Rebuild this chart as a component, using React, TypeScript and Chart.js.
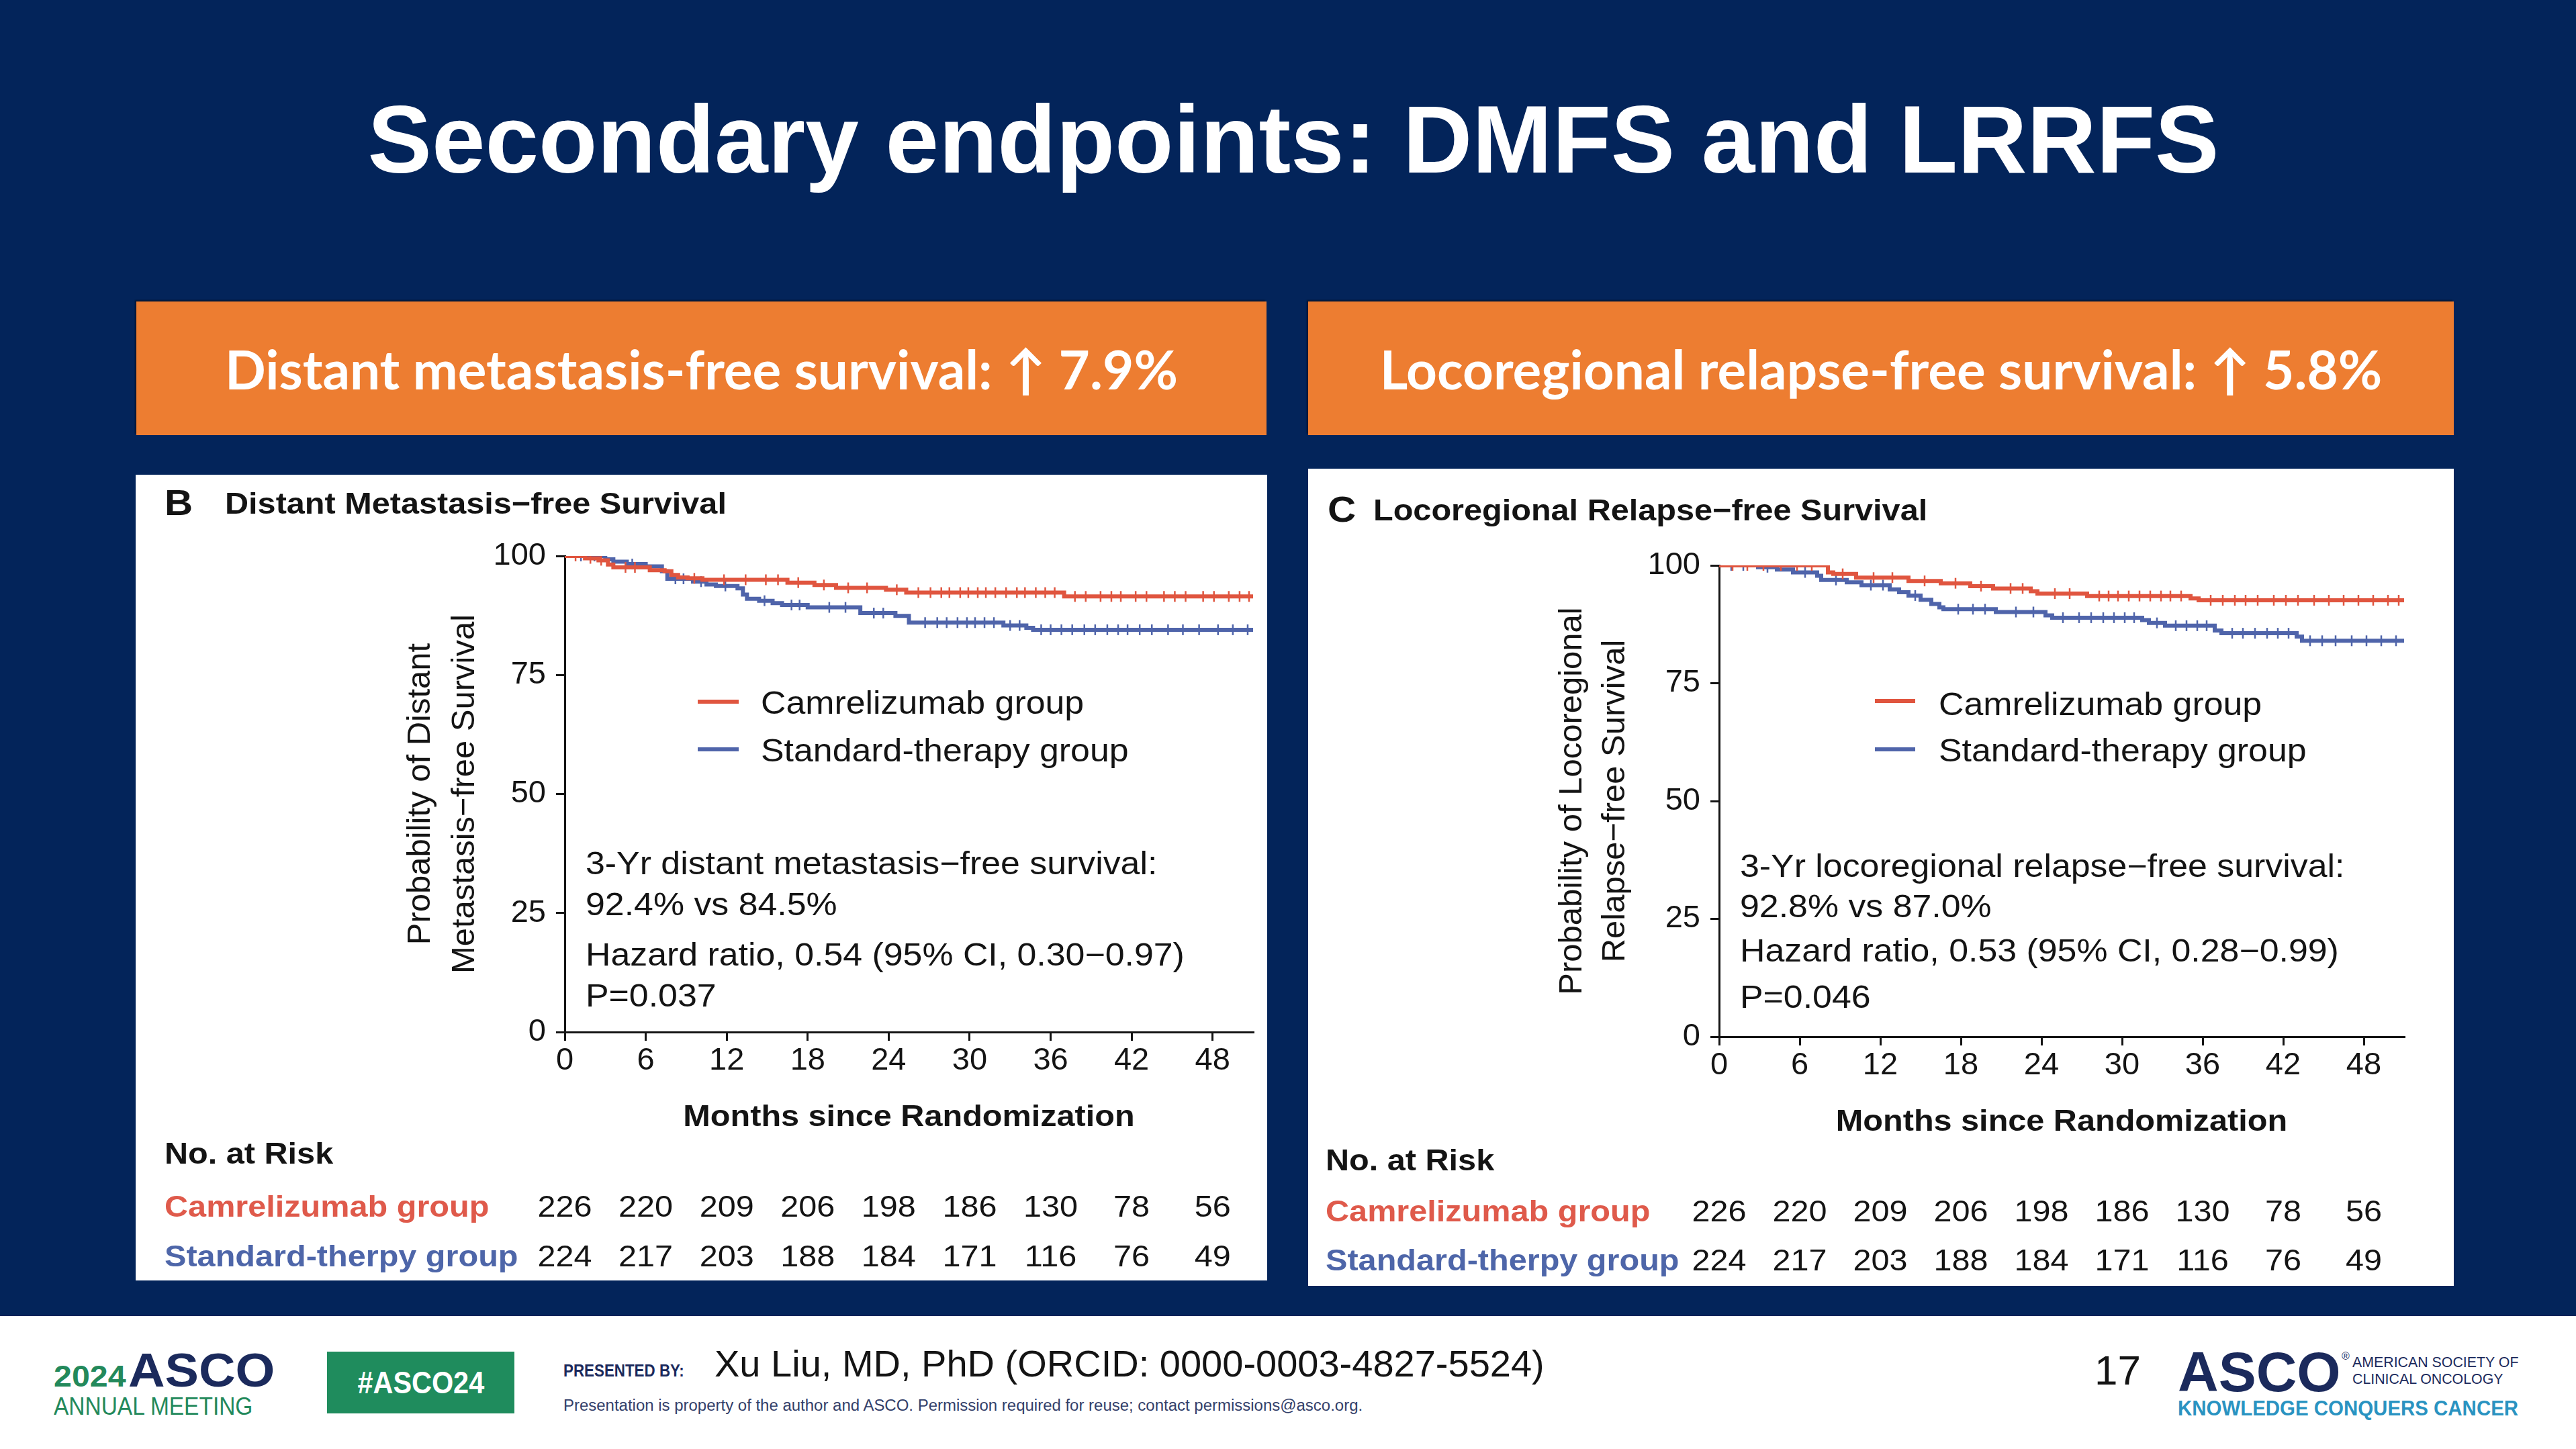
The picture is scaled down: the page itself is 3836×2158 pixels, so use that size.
import React, { useEffect, useRef } from 'react';
import { Chart, registerables } from 'chart.js';

Chart.register(...registerables);

const FONT = "'Liberation Sans', Arial, Helvetica, sans-serif";
const NAVY = '#03245a';
const ORANGE = '#ed7d31';
const RED = '#e0553f';
const BLUE = '#4f64aa';
const RED_TXT = '#df5a4b';
const BLUE_TXT = '#4e66a9';
const INK = '#141414';
const SX = 1.08; // horizontal stretch seen in the figure's text

// ---------------- data ----------------
const monthTicks = [0, 6, 12, 18, 24, 30, 36, 42, 48];
const monthMax = 51;
const probTicks = [0, 25, 50, 75, 100];

// Distant metastasis-free survival (Kaplan-Meier steps)
const dmfsCamTimes = [0, 1.5, 2.5, 3.2, 3.6, 6.3, 7.4, 7.9, 8.4, 9.1, 10.2, 16.5, 18.5, 20.1, 23.8, 25.3, 37.0, 51];
const dmfsCamSurv = [100, 99.5, 99.1, 98.2, 97.6, 97.0, 96.8, 96.0, 95.5, 95.3, 95.0, 94.4, 93.9, 93.3, 92.9, 92.3, 91.5, 91.5];
const dmfsStdTimes = [0, 3.0, 3.6, 4.6, 6.0, 7.2, 7.6, 9.5, 10.5, 11.2, 12.8, 13.2, 13.5, 14.4, 15.4, 16.1, 18.0, 21.9, 24.5, 25.5, 32.5, 34.2, 34.7, 51];
const dmfsStdSurv = [100, 99.3, 98.8, 98.3, 97.8, 96.8, 95.2, 94.6, 94.0, 93.7, 93.2, 91.9, 91.0, 90.6, 90.1, 89.7, 89.2, 88.0, 87.4, 86.0, 85.4, 84.9, 84.5, 84.5];
const dmfsCamCensor = [0.8, 1.9, 2.7, 4.5, 5.2, 9.6, 11.8, 13.4, 14.9, 15.8, 17.3, 19.2, 21.0, 22.4, 24.6, 26.2, 27.1, 27.9, 28.5, 29.3, 29.9, 30.6, 31.2, 31.9, 32.7, 33.5, 34.1, 34.9, 35.6, 36.3, 37.8, 38.6, 39.7, 40.5, 41.2, 42.3, 43.1, 44.4, 45.2, 46.0, 47.3, 48.1, 49.2, 50.0, 50.7];
const dmfsStdCensor = [1.2, 2.2, 5.0, 8.2, 8.8, 10.1, 11.9, 14.8, 16.8, 17.4, 19.6, 20.8, 22.9, 23.6, 26.7, 27.6, 28.3, 29.1, 29.8, 30.4, 31.1, 31.8, 33.0, 33.7, 35.3, 36.0, 36.8, 37.6, 38.5, 39.3, 40.2, 41.0, 41.7, 42.6, 43.5, 44.7, 45.8, 47.0, 48.4, 49.5, 50.6];
const dmfsRiskCam = [226, 220, 209, 206, 198, 186, 130, 78, 56];
const dmfsRiskStd = [224, 217, 203, 188, 184, 171, 116, 76, 49];

// Locoregional relapse-free survival (Kaplan-Meier steps)
const lrrfsCamTimes = [0, 8.1, 8.5, 10.2, 14.1, 16.5, 18.7, 20.4, 23.2, 23.7, 27.4, 35.1, 35.7, 51];
const lrrfsCamSurv = [100, 98.5, 98.2, 97.4, 96.7, 96.2, 95.6, 95.1, 94.5, 94.0, 93.5, 93.0, 92.6, 92.6];
const lrrfsStdTimes = [0, 2.9, 4.3, 5.5, 7.3, 7.6, 9.5, 10.6, 12.7, 13.4, 14.1, 15.0, 15.8, 16.4, 16.7, 20.6, 24.3, 24.8, 31.5, 32.0, 33.2, 36.9, 37.4, 43.0, 43.4, 51];
const lrrfsStdSurv = [100, 99.6, 99.1, 98.5, 97.8, 96.9, 96.4, 95.8, 94.9, 94.3, 93.6, 92.7, 91.8, 91.1, 90.7, 90.1, 89.4, 88.9, 88.4, 87.8, 87.2, 86.2, 85.6, 84.9, 84.0, 84.0];
const lrrfsCamCensor = [1.0, 2.1, 3.3, 4.6, 5.8, 6.9, 9.2, 11.5, 12.9, 15.3, 17.6, 19.5, 21.7, 22.6, 25.0, 26.1, 28.3, 29.0, 29.7, 30.5, 31.3, 32.1, 32.9, 33.6, 34.4, 36.6, 37.5, 38.4, 39.2, 40.1, 41.3, 42.2, 43.1, 44.3, 45.4, 46.5, 47.6, 48.7, 49.8, 50.6];
const lrrfsStdCensor = [0.9, 1.8, 3.6, 6.4, 8.7, 11.3, 12.2, 14.6, 17.8, 18.9, 19.8, 22.1, 23.4, 25.6, 26.8, 27.7, 28.6, 29.4, 30.2, 30.9, 32.6, 34.0, 34.8, 35.6, 36.3, 38.2, 39.0, 39.9, 40.8, 41.6, 42.4, 44.0, 44.9, 45.9, 47.1, 48.2, 49.3, 50.4];
const lrrfsRiskCam = [226, 220, 209, 206, 198, 186, 130, 78, 56];
const lrrfsRiskStd = [224, 217, 203, 188, 184, 171, 116, 76, 49];

// ---------------- text ----------------
const slideTitle = 'Secondary endpoints: DMFS and LRRFS';
const headerLeft = 'Distant metastasis-free survival: ↑ 7.9%';
const headerRight = 'Locoregional relapse-free survival: ↑ 5.8%';
const legendLabels = ['Camrelizumab group', 'Standard-therapy group'];
const riskLabels = ['Camrelizumab group', 'Standard-therpy group'];
const xTitle = 'Months since Randomization';

function survAt(times: number[], surv: number[], t: number) {
  let v = surv[0];
  for (let i = 0; i < times.length; i++) if (times[i] <= t) v = surv[i];
  return v;
}

type PanelCfg = {
  x: number; y: number; w: number; h: number;
  caLeft: number; caTop: number; caRight: number; caBottom: number;
  letter: string; letterX: number; titleX: number; titleB: number; title: string;
  yTitle: string[]; yTitleX: number[];
  xTitleB: number;
  legLine: [number, number]; legY: number[]; legTextX: number; legB: number[];
  note: string[]; noteX: number; noteB: number[];
  riskX: number; riskHeadB: number; riskB: number[];
  camTimes: number[]; camSurv: number[]; stdTimes: number[]; stdSurv: number[];
  camCensor: number[]; stdCensor: number[]; riskCam: number[]; riskStd: number[];
};

const leftPanel: PanelCfg = {
  x: 202, y: 707, w: 1685, h: 1200,
  caLeft: 639, caTop: 121, caRight: 1664, caBottom: 830,
  letter: 'B', letterX: 43, titleX: 133, titleB: 58, title: 'Distant Metastasis−free Survival',
  yTitle: ['Probability of Distant', 'Metastasis−free Survival'], yTitleX: [424, 490],
  xTitleB: 970,
  legLine: [837, 898], legY: [338, 409], legTextX: 931, legB: [356, 427],
  note: ['3-Yr distant metastasis−free survival:', '92.4% vs 84.5%', 'Hazard ratio, 0.54 (95% CI, 0.30−0.97)', 'P=0.037'],
  noteX: 670, noteB: [595, 656, 731, 792],
  riskX: 43, riskHeadB: 1026, riskB: [1105, 1179],
  camTimes: dmfsCamTimes, camSurv: dmfsCamSurv, stdTimes: dmfsStdTimes, stdSurv: dmfsStdSurv,
  camCensor: dmfsCamCensor, stdCensor: dmfsStdCensor, riskCam: dmfsRiskCam, riskStd: dmfsRiskStd,
};

const rightPanel: PanelCfg = {
  x: 1948, y: 698, w: 1706, h: 1217,
  caLeft: 612, caTop: 144, caRight: 1632, caBottom: 846,
  letter: 'C', letterX: 29, titleX: 97, titleB: 77, title: 'Locoregional Relapse−free Survival',
  yTitle: ['Probability of Locoregional', 'Relapse−free Survival'], yTitleX: [393, 457],
  xTitleB: 986,
  legLine: [844, 904], legY: [346, 418], legTextX: 939, legB: [367, 436],
  note: ['3-Yr locoregional relapse−free survival:', '92.8% vs 87.0%', 'Hazard ratio, 0.53 (95% CI, 0.28−0.99)', 'P=0.046'],
  noteX: 643, noteB: [608, 668, 734, 803],
  riskX: 26, riskHeadB: 1045, riskB: [1121, 1194],
  camTimes: lrrfsCamTimes, camSurv: lrrfsCamSurv, stdTimes: lrrfsStdTimes, stdSurv: lrrfsStdSurv,
  camCensor: lrrfsCamCensor, stdCensor: lrrfsStdCensor, riskCam: lrrfsRiskCam, riskStd: lrrfsRiskStd,
};

function drawText(ctx: CanvasRenderingContext2D, text: string, x: number, y: number, size: number, weight: number, color: string, align: CanvasTextAlign = 'left', sx = SX) {
  ctx.save();
  ctx.translate(x, y);
  ctx.scale(sx, 1);
  ctx.font = `${weight} ${size}px ${FONT}`;
  ctx.fillStyle = color;
  ctx.textAlign = align;
  ctx.textBaseline = 'alphabetic';
  ctx.fillText(text, 0, 0);
  ctx.restore();
}

function makeOverlay(p: PanelCfg) {
  return {
    id: 'kmOverlay',
    afterDraw(chart: any) {
      const ctx: CanvasRenderingContext2D = chart.ctx;
      const ca = chart.chartArea;
      const xs = chart.scales.x;
      // panel title
      drawText(ctx, p.letter, p.letterX, p.titleB + 2, 54, 700, INK);
      drawText(ctx, p.title, p.titleX, p.titleB, 45, 700, INK);
      // y title
      const cy = (ca.top + ca.bottom) / 2;
      p.yTitle.forEach((line, i) => {
        ctx.save();
        ctx.translate(p.yTitleX[i], cy);
        ctx.rotate(-Math.PI / 2);
        ctx.font = `400 49px ${FONT}`;
        ctx.fillStyle = INK;
        ctx.textAlign = 'center';
        ctx.textBaseline = 'middle';
        ctx.fillText(line, 0, 0);
        ctx.restore();
      });
      // x title
      drawText(ctx, xTitle, (ca.left + ca.right) / 2, p.xTitleB, 45, 700, INK, 'center');
      // legend
      [RED, BLUE].forEach((c, i) => {
        ctx.save();
        ctx.strokeStyle = c;
        ctx.lineWidth = 6;
        ctx.beginPath();
        ctx.moveTo(p.legLine[0], p.legY[i]);
        ctx.lineTo(p.legLine[1], p.legY[i]);
        ctx.stroke();
        ctx.restore();
        drawText(ctx, legendLabels[i], p.legTextX, p.legB[i], 48, 400, INK);
      });
      // annotation
      p.note.forEach((line, i) => drawText(ctx, line, p.noteX, p.noteB[i], 48, 400, INK));
      // risk table
      drawText(ctx, 'No. at Risk', p.riskX, p.riskHeadB, 45, 700, INK);
      drawText(ctx, riskLabels[0], p.riskX, p.riskB[0], 45, 700, RED_TXT);
      drawText(ctx, riskLabels[1], p.riskX, p.riskB[1], 45, 700, BLUE_TXT);
      monthTicks.forEach((m, i) => {
        const px = xs.getPixelForValue(m);
        drawText(ctx, String(p.riskCam[i]), px, p.riskB[0], 45, 400, INK, 'center');
        drawText(ctx, String(p.riskStd[i]), px, p.riskB[1], 45, 400, INK, 'center');
      });
    },
  };
}

function KMPanel({ panel }: { panel: PanelCfg }) {
  const ref = useRef<HTMLCanvasElement | null>(null);
  useEffect(() => {
    const canvas = ref.current;
    if (!canvas) return;
    const p = panel;
    const stepData = (t: number[], s: number[]) => t.map((x, i) => ({ x, y: s[i] }));
    const censorData = (c: number[], t: number[], s: number[]) => c.map((x) => ({ x, y: survAt(t, s, x) }));
    const censorStyle = (color: string) => ({
      showLine: false,
      pointStyle: 'line' as const,
      rotation: 90,
      pointRadius: 8,
      pointBorderWidth: 2.5,
      pointBorderColor: color,
      borderColor: color,
      backgroundColor: color,
    });
    const tickFont = { family: FONT, size: 47 };
    const chart = new Chart(canvas, {
      type: 'line',
      data: {
        datasets: [
          { data: stepData(p.camTimes, p.camSurv), borderColor: RED, borderWidth: 6, stepped: 'before', pointRadius: 0, fill: false },
          { data: censorData(p.camCensor, p.camTimes, p.camSurv), ...censorStyle(RED) } as any,
          { data: stepData(p.stdTimes, p.stdSurv), borderColor: BLUE, borderWidth: 6, stepped: 'before', pointRadius: 0, fill: false },
          { data: censorData(p.stdCensor, p.stdTimes, p.stdSurv), ...censorStyle(BLUE) } as any,
        ],
      },
      options: {
        animation: false,
        responsive: false,
        maintainAspectRatio: false,
        events: [],
        layout: { padding: { left: 0, top: p.caTop, right: p.w - p.caRight, bottom: 0 } },
        plugins: { legend: { display: false }, tooltip: { enabled: false }, title: { display: false } },
        scales: {
          x: {
            type: 'linear',
            min: 0,
            max: monthMax,
            afterBuildTicks: (s: any) => { s.ticks = monthTicks.map((v) => ({ value: v })); },
            afterFit: (s: any) => { s.height = p.h - p.caBottom; },
            grid: { display: true, drawOnChartArea: false, drawTicks: true, tickLength: 13, color: INK, lineWidth: 3 },
            border: { display: true, color: INK, width: 3 },
            ticks: { color: INK, font: tickFont, padding: 2, maxRotation: 0, autoSkip: false },
          },
          y: {
            type: 'linear',
            min: 0,
            max: 100,
            afterBuildTicks: (s: any) => { s.ticks = probTicks.map((v) => ({ value: v })); },
            afterFit: (s: any) => { s.width = p.caLeft; },
            grid: { display: true, drawOnChartArea: false, drawTicks: true, tickLength: 13, color: INK, lineWidth: 3 },
            border: { display: true, color: INK, width: 3 },
            ticks: { color: INK, font: tickFont, padding: 15, autoSkip: false },
          },
        },
      } as any,
      plugins: [makeOverlay(p) as any],
    });
    return () => chart.destroy();
  }, [panel]);
  return (
    <canvas
      ref={ref}
      width={panel.w}
      height={panel.h}
      style={{ position: 'absolute', left: panel.x, top: panel.y, width: panel.w, height: panel.h, background: '#fff', display: 'block' }}
    />
  );
}

function T(props: { x: number; b: number; size: number; text: string; weight?: number; color?: string; sx?: number; family?: string }) {
  const { x, b, size, text, weight = 400, color = INK, sx = 1, family = FONT } = props;
  return (
    <div
      style={{
        position: 'absolute', left: x, top: b - 0.8465 * size, fontSize: size, lineHeight: `${size}px`,
        fontWeight: weight, color, fontFamily: family, whiteSpace: 'nowrap',
        transform: `scaleX(${sx})`, transformOrigin: 'left top',
      }}
    >
      {text}
    </div>
  );
}

function Header({ x, w, text }: { x: number; w: number; text: string }) {
  return (
    <div
      style={{
        position: 'absolute', left: x, top: 449, width: w, height: 199, background: ORANGE,
        boxShadow: '-2px -2px 2px rgba(0,0,0,0.45)',
        display: 'flex', alignItems: 'center', justifyContent: 'center',
        color: '#fff', fontFamily: "Lato, 'Open Sans', sans-serif", fontWeight: 700, fontSize: 80, whiteSpace: 'nowrap',
      }}
    >
      {text}
    </div>
  );
}

export default function App() {
  const green = '#23895b';
  const navyLogo = '#1b2a5c';
  return (
    <div style={{ position: 'fixed', left: 0, top: 0, width: 3836, height: 2158, background: '#fff', overflow: 'hidden', fontFamily: FONT }}>
      <div style={{ position: 'absolute', left: 0, top: 0, width: 3836, height: 1960, background: NAVY }} />
      <div
        style={{
          position: 'absolute', left: 8, top: 257 - 0.8465 * 143, width: 3836, textAlign: 'center',
          fontSize: 143, lineHeight: '143px', fontWeight: 700, color: '#fff', fontFamily: FONT, whiteSpace: 'nowrap',
        }}
      >
        {slideTitle}
      </div>
      <Header x={203} w={1683} text={headerLeft} />
      <Header x={1948} w={1706} text={headerRight} />
      <KMPanel panel={leftPanel} />
      <KMPanel panel={rightPanel} />

      {/* footer */}
      <T x={80} b={2065} size={44} text="2024" weight={700} color={green} sx={1.1} />
      <T x={191} b={2065} size={70} text="ASCO" weight={700} color={navyLogo} sx={1.08} />
      <T x={80} b={2107} size={36} text="ANNUAL MEETING" weight={400} color={green} sx={0.93} />
      <div style={{ position: 'absolute', left: 487, top: 2013, width: 279, height: 92, background: '#1f8c5d', display: 'flex', alignItems: 'center', justifyContent: 'center' }}>
        <span style={{ color: '#fff', fontWeight: 700, fontSize: 46, fontFamily: FONT, transform: 'scaleX(0.9)', display: 'inline-block' }}>#ASCO24</span>
      </div>
      <T x={839} b={2050} size={26} text="PRESENTED BY:" weight={700} color={navyLogo} sx={0.86} />
      <T x={1064} b={2050} size={56} text="Xu Liu, MD, PhD (ORCID: 0000-0003-4827-5524)" />
      <T x={839} b={2102} size={23.5} text="Presentation is property of the author and ASCO. Permission required for reuse; contact permissions@asco.org." color="#33406a" sx={1.02} />
      <T x={3119} b={2062} size={62} text="17" />
      <T x={3243} b={2072} size={84} text="ASCO" weight={700} color={navyLogo} />
      <T x={3487} b={2026} size={16} text="®" color={navyLogo} />
      <T x={3503} b={2037} size={22} text="AMERICAN SOCIETY OF" color={navyLogo} sx={0.97} />
      <T x={3503} b={2062} size={22} text="CLINICAL ONCOLOGY" color={navyLogo} sx={0.97} />
      <T x={3243} b={2108} size={32} text="KNOWLEDGE CONQUERS CANCER" weight={700} color="#2a93c1" sx={0.92} />
    </div>
  );
}
